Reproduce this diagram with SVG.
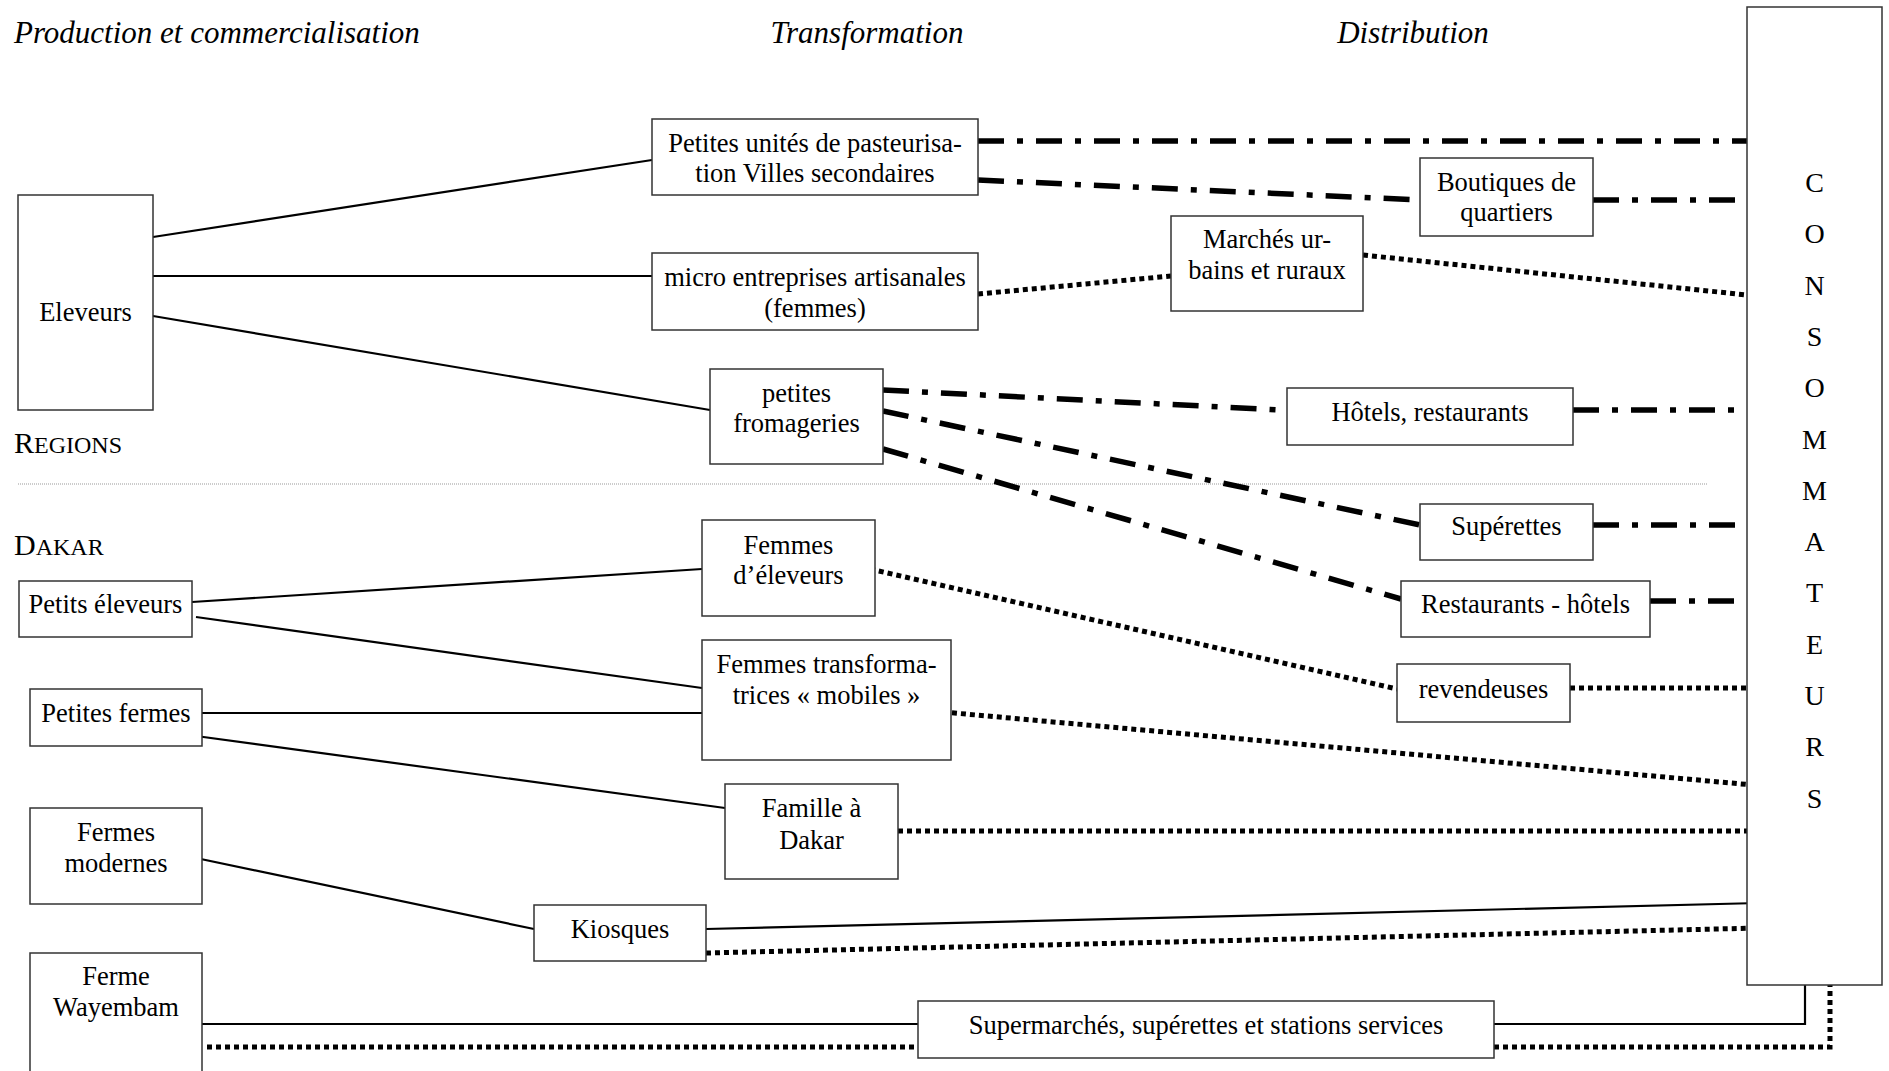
<svg xmlns="http://www.w3.org/2000/svg" width="1889" height="1071" viewBox="0 0 1889 1071">
<style>
.box{fill:#fff;stroke:#333;stroke-width:1.5}
.t{font-family:"Liberation Serif","Times New Roman",serif;font-size:26.5px;fill:#000;text-anchor:middle}
.c{font-family:"Liberation Serif","Times New Roman",serif;font-size:28px;fill:#000;text-anchor:middle}
.h{font-family:"Liberation Serif","Times New Roman",serif;font-size:31px;font-style:italic;fill:#000}
.sc{font-family:"Liberation Serif","Times New Roman",serif;font-size:30px;fill:#000}
.solid{stroke:#000;stroke-width:2.2;fill:none}
.dot{stroke:#000;stroke-width:5;fill:none;stroke-dasharray:5 4}
.dd{stroke:#000;stroke-width:5.5;fill:none;stroke-dasharray:26 13 6 13}
</style>
<rect width="1889" height="1071" fill="#fff"/>
<g id="labels">
<text class="h" x="14" y="43">Production et commercialisation</text>
<text class="h" x="867" y="43" text-anchor="middle">Transformation</text>
<text class="h" x="1413" y="43" text-anchor="middle">Distribution</text>
<text class="sc" x="14" y="453">R<tspan font-size="24">EGIONS</tspan></text>
<text class="sc" x="14" y="555">D<tspan font-size="24">AKAR</tspan></text>
<line x1="18" y1="484" x2="1708" y2="484" stroke="#999" stroke-width="1" stroke-dasharray="1 1"/>
</g>
<g id="connectors">
<line class="solid" x1="153" y1="237" x2="652" y2="160"/>
<line class="solid" x1="153" y1="276" x2="652" y2="276"/>
<line class="solid" x1="153" y1="316" x2="710" y2="410"/>
<line class="solid" x1="192" y1="602" x2="702" y2="569"/>
<line class="solid" x1="196" y1="617" x2="702" y2="688"/>
<line class="solid" x1="202" y1="713" x2="702" y2="713"/>
<line class="solid" x1="196" y1="736" x2="725" y2="808"/>
<line class="solid" x1="196" y1="858" x2="534" y2="929"/>
<line class="solid" x1="706" y1="929" x2="1759" y2="903"/>
<line class="solid" x1="202" y1="1024" x2="918" y2="1024"/>
<polyline class="solid" points="1494,1024 1805,1024 1805,985"/>
<line class="dot" x1="978" y1="294" x2="1171" y2="276"/>
<line class="dot" x1="1363" y1="255" x2="1747" y2="295"/>
<line class="dot" x1="870" y1="569" x2="1397" y2="689"/>
<line class="dot" x1="1570" y1="688" x2="1753" y2="688"/>
<line class="dot" x1="943" y1="712" x2="1753" y2="785"/>
<line class="dot" x1="898" y1="831" x2="1753" y2="831"/>
<line class="dot" x1="706" y1="953" x2="1759" y2="928"/>
<line class="dot" x1="207" y1="1047" x2="918" y2="1047"/>
<polyline class="dot" points="1494,1047 1830,1047 1830,978"/>
<line class="dd" x1="978" y1="141" x2="1747" y2="141"/>
<line class="dd" x1="978" y1="180" x2="1420" y2="200"/>
<line class="dd" x1="1593" y1="200" x2="1735" y2="200"/>
<line class="dd" x1="883" y1="390" x2="1281" y2="410"/>
<line class="dd" x1="1573" y1="410" x2="1735" y2="410"/>
<line class="dd" x1="883" y1="411" x2="1420" y2="525"/>
<line class="dd" x1="1593" y1="525" x2="1735" y2="525"/>
<line class="dd" x1="883" y1="449" x2="1401" y2="599"/>
<line class="dd" x1="1650" y1="601" x2="1735" y2="601"/>
</g>
<g id="n-eleveurs"><rect class="box" x="18" y="195" width="135" height="215"/><text class="t" x="85.5" y="321">Eleveurs</text></g>
<g id="n-pasteurisation"><rect class="box" x="652" y="119" width="326" height="76"/><text class="t" x="815" y="152">Petites unités de pasteurisa-</text><text class="t" x="815" y="182">tion Villes secondaires</text></g>
<g id="n-micro"><rect class="box" x="652" y="253" width="326" height="77"/><text class="t" x="815" y="286">micro entreprises artisanales</text><text class="t" x="815" y="317">(femmes)</text></g>
<g id="n-fromageries"><rect class="box" x="710" y="369" width="173" height="95"/><text class="t" x="796.5" y="402">petites</text><text class="t" x="796.5" y="432">fromageries</text></g>
<g id="n-marches"><rect class="box" x="1171" y="216" width="192" height="95"/><text class="t" x="1267" y="248">Marchés ur-</text><text class="t" x="1267" y="279">bains et ruraux</text></g>
<g id="n-boutiques"><rect class="box" x="1420" y="158" width="173" height="78"/><text class="t" x="1506.5" y="191">Boutiques de</text><text class="t" x="1506.5" y="221">quartiers</text></g>
<g id="n-hotels"><rect class="box" x="1287" y="388" width="286" height="57"/><text class="t" x="1430" y="421">Hôtels, restaurants</text></g>
<g id="n-superettes"><rect class="box" x="1420" y="504" width="173" height="56"/><text class="t" x="1506.5" y="535">Supérettes</text></g>
<g id="n-restaurants"><rect class="box" x="1401" y="581" width="249" height="56"/><text class="t" x="1525.5" y="613">Restaurants - hôtels</text></g>
<g id="n-revendeuses"><rect class="box" x="1397" y="664" width="173" height="58"/><text class="t" x="1483.5" y="698">revendeuses</text></g>
<g id="n-consommateurs"><rect class="box" x="1747" y="7" width="135" height="978"/>
<text class="c" x="1814.5" y="192">C</text><text class="c" x="1814.5" y="243">O</text><text class="c" x="1814.5" y="295">N</text><text class="c" x="1814.5" y="346">S</text><text class="c" x="1814.5" y="397">O</text><text class="c" x="1814.5" y="449">M</text><text class="c" x="1814.5" y="500">M</text><text class="c" x="1814.5" y="551">A</text><text class="c" x="1814.5" y="602">T</text><text class="c" x="1814.5" y="654">E</text><text class="c" x="1814.5" y="705">U</text><text class="c" x="1814.5" y="756">R</text><text class="c" x="1814.5" y="808">S</text></g>
<g id="n-femmes-eleveurs"><rect class="box" x="702" y="520" width="173" height="96"/><text class="t" x="788.5" y="554">Femmes</text><text class="t" x="788.5" y="584">d’éleveurs</text></g>
<g id="n-femmes-transformatrices"><rect class="box" x="702" y="640" width="249" height="120"/><text class="t" x="826.5" y="673">Femmes transforma-</text><text class="t" x="826.5" y="704">trices « mobiles »</text></g>
<g id="n-famille"><rect class="box" x="725" y="784" width="173" height="95"/><text class="t" x="811.5" y="817">Famille à</text><text class="t" x="811.5" y="849">Dakar</text></g>
<g id="n-kiosques"><rect class="box" x="534" y="905" width="172" height="56"/><text class="t" x="620" y="938">Kiosques</text></g>
<g id="n-supermarches"><rect class="box" x="918" y="1001" width="576" height="57"/><text class="t" x="1206" y="1034">Supermarchés, supérettes et stations services</text></g>
<g id="n-petits-eleveurs"><rect class="box" x="19" y="581" width="173" height="56"/><text class="t" x="105.5" y="613">Petits éleveurs</text></g>
<g id="n-petites-fermes"><rect class="box" x="30" y="689" width="172" height="57"/><text class="t" x="116" y="722">Petites fermes</text></g>
<g id="n-fermes-modernes"><rect class="box" x="30" y="808" width="172" height="96"/><text class="t" x="116" y="841">Fermes</text><text class="t" x="116" y="872">modernes</text></g>
<g id="n-wayembam"><rect class="box" x="30" y="953" width="172" height="125"/><text class="t" x="116" y="985">Ferme</text><text class="t" x="116" y="1016">Wayembam</text></g>
</svg>
